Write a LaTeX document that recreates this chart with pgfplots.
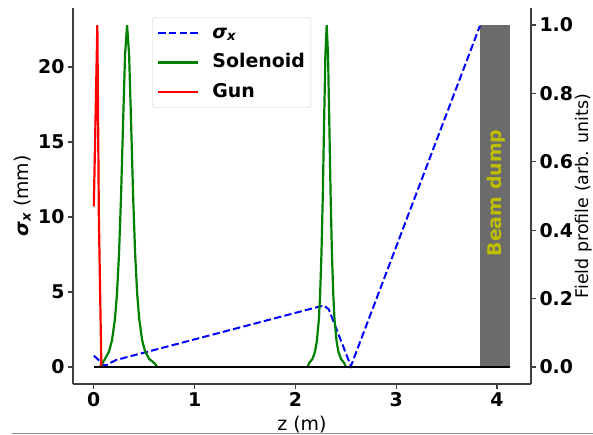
\documentclass[border=0pt]{standalone}
\usepackage{fontspec}
\setmainfont{DejaVu Sans}
\usepackage{pgfplots}
\pgfplotsset{compat=1.18}

\definecolor{mplgreen}{rgb}{0,0.5,0}
\definecolor{dumpgray}{rgb}{0.42,0.42,0.42}
\definecolor{dumpyellow}{rgb}{0.75,0.75,0}
\definecolor{spine}{rgb}{0.25,0.25,0.25}
\newcommand{\fs}{\fontsize{19}{23}\selectfont}

\begin{document}
\begin{tikzpicture}
\begin{axis}[
  scale only axis, width=458bp, height=376bp,
  xmin=-0.2065, xmax=4.3365, ymin=-1.14, ymax=23.94,
  axis x line*=bottom, axis y line*=left,
  axis line style={spine, line width=1.2bp, -},
  tick style={spine, line width=1.2bp},
  tick align=outside, major tick length=5bp,
  xtick={0,1,2,3,4}, ytick={0,5,10,15,20},
  ticklabel style={font=\bfseries\fs},
  /pgf/number format/assume math mode=true,
  xlabel={z (m)},
  ylabel={{\bfseries\itshape σ\textsubscript{x}} (mm)},
  label style={font=\fs},
  xlabel style={at={(axis description cs:0.5,-0.109)}, anchor=center},
  ylabel style={at={(axis description cs:-0.111,0.5)}, anchor=center},
  legend style={at={(axis description cs:0.1725,0.976)}, anchor=north west,
    draw=black!20, rounded corners=3bp, fill=white, font=\bfseries\fs,
    inner xsep=5bp, inner ysep=6bp, row sep=10bp,
    nodes={inner sep=1bp, text height=14bp, text depth=3.5bp},
    /tikz/every odd column/.append style={column sep=12bp}},
  legend cell align=left,
  legend image code/.code={\draw[#1] (0bp,0bp) -- (40bp,0bp);},
]
% beam dump
\addplot[fill=dumpgray, draw=none, forget plot] coordinates {(3.83,0) (4.13,0) (4.13,22.8) (3.83,22.8)} -- cycle;
% sigma_x
\addplot[blue, line width=2bp, dash pattern=on 7.4bp off 3.2bp] coordinates {
 (0.0,0.75) (0.05,0.45) (0.09,0.15) (0.12,0.1) (0.16,0.25) (0.22,0.46)
 (2.28,4.1) (2.33,3.85) (2.55,0.05) (3.83,22.75)};
\addlegendentry{{\itshape σ\textsubscript{x}}}
% solenoid 1
\addplot[mplgreen, line width=2.2bp] coordinates {
 (0.06,0.0) (0.11,0.52) (0.15,1.01) (0.18,1.76) (0.21,3.21) (0.23,4.90)
 (0.25,7.53) (0.27,11.37) (0.29,16.24) (0.31,20.83) (0.33,22.8) (0.35,20.83)
 (0.37,16.24) (0.39,11.37) (0.41,7.53) (0.43,4.90) (0.45,3.21) (0.48,1.76)
 (0.51,1.01) (0.55,0.52) (0.60,0.26) (0.63,0.0)};
\addlegendentry{Solenoid}
% gun
\addplot[red, line width=2.2bp] coordinates {
 (0.0,10.7) (0.035,22.8) (0.05,10.0) (0.075,0.0)};
\addlegendentry{Gun}
% solenoid 2
\addplot[mplgreen, line width=2.2bp, forget plot] coordinates {
 (2.12,0.0) (2.136,0.26) (2.168,0.52) (2.194,1.01) (2.213,1.76) (2.233,3.21)
 (2.245,4.90) (2.258,7.53) (2.271,11.37) (2.284,16.24) (2.297,20.83) (2.31,22.8)
 (2.323,20.83) (2.336,16.24) (2.349,11.37) (2.362,7.53) (2.375,4.90) (2.387,3.21)
 (2.407,1.76) (2.426,1.01) (2.452,0.52) (2.484,0.26) (2.50,0.0)};
% baseline
\addplot[black, line width=2.5bp, forget plot] coordinates {(0,0) (4.13,0)};
\node[rotate=90, font=\bfseries\fs, text=dumpyellow] at (axis cs:3.99,11.6) {Beam dump};
\end{axis}
\begin{axis}[
  scale only axis, width=458bp, height=376bp,
  xmin=-0.2065, xmax=4.3365, ymin=-0.05, ymax=1.05,
  axis x line=none, axis y line*=right,
  axis line style={spine, line width=1.2bp, -},
  tick style={spine, line width=1.2bp},
  tick align=outside, major tick length=5bp,
  ytick={0,0.2,0.4,0.6,0.8,1.0},
  yticklabel style={font=\bfseries\fs, /pgf/number format/fixed, /pgf/number format/fixed zerofill, /pgf/number format/precision=1},
  /pgf/number format/assume math mode=true,
  ylabel={Field profile (arb. units)},
  ylabel style={font=\fontsize{17.5}{21}\selectfont, at={(axis description cs:1.1155,0.5)}, anchor=center, inner sep=0pt},
]
\end{axis}
\draw[black!45, line width=1.5bp] (-61bp,-49.5bp) -- (520bp,-49.5bp);
\pgfresetboundingbox
\path (-73bp,-51bp) rectangle (520bp,384bp);
\end{tikzpicture}
\end{document}
